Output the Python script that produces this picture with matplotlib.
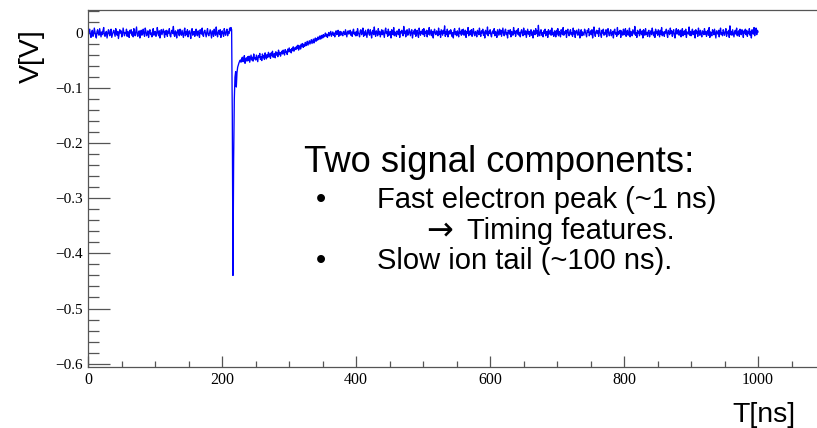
import numpy as np
import matplotlib
matplotlib.use("Agg")
import matplotlib.pyplot as plt
from matplotlib.ticker import MultipleLocator, FixedLocator, FuncFormatter

# ---------------- data ----------------
dt_ns = 1.0  # sample spacing of the typed trace

# baseline before the pulse, starting at t = 0 ns (mV)
pre_start = 0
pre_mV = [
    -3, 4, 7, -2, -8, 1, 5, -6, -1, 9, 2, -5, -9, 3, 6, -1, -4, 8, 0, -7,
    2, -3, 5, 10, -4, -6, 1, 3, -9, -2, 6, 4, -5, 0, 7, -8, -3, 2, 5, -1,
    -6, 8, 1, -4, 3, -10, -2, 6, 0, 4, -7, -3, 9, 2, -5, 1, -1, 7, -6, 3,
    -2, -8, 5, 0, 6, -4, 2, -7, 8, -1, -5, 3, 11, -3, -6, 2, 4, -9, 1, 5,
    -4, 0, 7, -2, -6, 9, 3, -5, -1, 4, -8, 2, 6, -3, 0, -7, 5, 8, -4, 1,
    3, -6, -2, 10, 1, -5, 4, -9, 0, 6, -3, 2, 7, -1, -8, 4, -2, 5, -6, 3,
    0, 8, -4, -7, 2, 5, -1, 12, -3, -6, 4, 1, -9, 3, 6, -2, -5, 7, 0, -4,
    5, -1, -8, 3, 9, -5, 2, -3, 6, -7, 1, 4, -2, -10, 5, 8, -4, 0, 3, -6,
    2, 7, -3, -5, 4, 0, -8, 6, 1, -2, 9, -4, -6, 3, 5, -1, -7, 2, 8, -3,
    -5, 1, 6, -2, -9, 4, 3, -6, 7, 0, -4, 11, -1, -7, 2, 5, -3, 6, -8, 1,
    4, -2, -6, 8, 0, -4, 3, 7, -5, 2, -1, 9, 4, 10, 6,
]
# fast electron peak, starting at t = 215 ns (mV)
peak_start = 215
peak_mV = [-150, -440, -230, -120, -80, -70, -98, -72, -62, -58, -54, -51, -49, -53, -47]
# slow ion tail, starting at t = 230 ns (mV)
tail_start = 230
tail_mV = [
    -44, -52, -47, -41, -55, -49, -45, -51, -43, -50,
    -42, -53, -46, -40, -49, -44, -51, -38, -47, -45,
    -49, -40, -46, -52, -41, -44, -37, -48, -43, -50,
    -38, -45, -41, -48, -36, -43, -47, -39, -44, -35,
    -43, -38, -46, -36, -41, -33, -44, -39, -37, -45,
    -34, -40, -36, -43, -31, -39, -35, -42, -37, -33,
    -38, -31, -36, -40, -30, -35, -33, -39, -29, -34,
    -27, -34, -30, -36, -28, -32, -25, -33, -29, -26,
    -30, -24, -28, -22, -31, -26, -23, -29, -20, -25,
    -19, -26, -21, -24, -17, -23, -20, -15, -22, -18,
    -14, -20, -16, -12, -19, -15, -11, -18, -13, -9,
    -15, -10, -13, -7, -12, -9, -5, -11, -8, -4,
    -9, -3, -7, -5, 0, -6, -2, -8, -4, 1,
    -5, -1, 3, -6, -2, 2, -4, 0, -7, 1,
    4, -3, -1, 5, -6, 0, 3, -4, 2, -2,
    -5, 3, 1, -3, 6, -1, -7, 2, 4, -2,
    0, 5, -4, 2, -6, 3, 7, -2, 1, -5,
]
# baseline after the tail, starting at t = 400 ns (mV)
post_start = 400
post_mV = [
    3, -5, 8, 1, -2, -7, 4, 6, -3, 0, 9, -6, 2, -4, 5, -1, -8, 3, 7, -2,
    -4, 6, 0, -9, 2, 5, -3, 11, -1, -6, 4, 1, -5, 8, -2, 3, -7, 0, 6, -3,
    5, -2, -8, 4, 9, -1, 2, -6, 7, -4, 0, 3, -9, 6, 1, -3, 10, -5, 2, -1,
    -6, 4, 1, -3, 7, -8, 3, 0, 5, -2, -5, 12, -1, 4, -7, 2, 6, -4, -2, 8,
    1, -5, 3, 6, -9, 0, 4, -2, 7, -6, 2, 5, -3, -8, 9, 1, -4, 3, -1, 6,
    -3, 8, -6, 2, 0, 5, -7, 4, -2, 10, -4, 1, 6, -5, 3, -9, 2, 7, -1, -3,
    4, 0, -5, 9, -2, 3, -8, 6, 1, -4, 5, -1, 13, -6, 2, -3, 7, -7, 0, 4,
    -2, 6, 3, -6, 1, -9, 5, 8, -3, 2, -5, 4, 0, -7, 9, -1, 3, -4, 6, -2,
    7, -4, 1, 5, -8, 3, -1, 10, -5, 0, 4, -3, 6, -6, 2, 8, -2, -5, 3, 1,
    -7, 5, 2, -3, 9, -1, -6, 4, 0, 7, -4, 2, -9, 5, 1, -2, 11, -5, 3, -1,
    6, -3, -7, 2, 4, -1, 8, -5, 3, 0, -8, 6, 1, -4, 7, -2, 5, -6, 2, 9,
    -1, -5, 4, 7, -3, 1, -9, 5, 2, -2, 6, -7, 3, 0, -4, 10, -1, 4, -6, 2,
    5, -2, 8, -4, 1, -7, 3, 6, -1, -5, 9, 2, -3, 4, -8, 0, 7, -2, 3, -6,
    1, 6, -4, 2, -9, 5, 0, -3, 8, -1, 4, -6, 14, -2, -5, 3, 6, -4, 1, -7,
    4, -1, 7, -5, 2, 3, -8, 6, -2, 0, 5, -4, 9, -3, 1, -6, 4, 2, -7, 5,
    -2, 8, -5, 3, 0, -7, 6, 1, -3, 10, -4, 2, -1, 5, -8, 4, 7, -2, -5, 3,
    6, -3, 1, -6, 9, -2, 4, -8, 2, 5, -1, -4, 7, 0, -9, 3, 6, -5, 2, -1,
    -4, 7, 3, -2, -7, 5, 1, 8, -5, 0, 4, -3, 6, -9, 2, 11, -1, -6, 3, 5,
    -1, 4, -6, 9, 2, -3, -8, 5, 0, 7, -4, 1, -2, 6, -7, 3, 8, -1, -5, 2,
    6, -5, 0, 3, -9, 4, 7, -2, 1, -6, 10, -3, 2, -1, 5, -8, 4, 0, -4, 7,
    -3, 2, 8, -6, 1, 5, -4, -1, 9, -7, 3, 0, -5, 6, 2, -2, 12, -4, 1, -8,
    5, -1, 3, -5, 7, 0, -3, 4, -9, 6, 2, -4, 8, -2, 1, -6, 3, 5, -7, 0,
    4, -3, 9, 1, -5, 2, -8, 7, -1, 3, -4, 6, 0, -7, 5, -2, 10, -5, 2, 1,
    -6, 3, 0, 7, -2, -8, 5, 1, -3, 9, -1, 4, -6, 2, 6, -4, -9, 3, 8, -2,
    1, 6, -4, -1, 5, -7, 3, 8, -5, 0, 4, -3, 7, -8, 2, 1, -2, 11, -4, 3,
    -5, 2, 7, -3, 0, 4, -9, 6, -1, 3, -6, 9, 1, -4, 5, -2, -7, 4, 2, -3,
    8, -2, 3, -6, 1, 5, -4, 10, -8, 2, 0, -5, 6, 3, -3, 7, -1, -9, 4, 1,
    -2, 5, -7, 4, 9, -3, 1, -5, 6, 0, -4, 3, 8, -6, 2, -1, 5, -8, 13, -3,
    3, -4, 6, 0, -7, 2, 5, -2, 9, -5, 1, 4, -6, 7, -1, -3, 6, 2, -8, 4,
    0, 7, -3, 5, -6, 2, -1, 8, -4, 3, -9, 6, 1, -2, 10, -5, 4, 9, -3, 5,
    2,
]

x_major = [0, 200, 400, 600, 800, 1000]
y_major = [-0.6, -0.5, -0.4, -0.3, -0.2, -0.1, 0.0]
x_label = "T[ns]"
y_label = "V[V]"
heading = "Two signal components:"
bullet1 = "Fast electron peak (~1 ns)"
arrow = "\u2192"
sub1 = "Timing features."
bullet2 = "Slow ion tail (~100 ns)."

segments = [(pre_start, pre_mV), (peak_start, peak_mV),
            (tail_start, tail_mV), (post_start, post_mV)]
t_ns = np.concatenate([s + np.arange(len(v)) * dt_ns for s, v in segments])
volts = np.concatenate([np.asarray(v, dtype=float) for _, v in segments]) / 1000.0

# ---------------- figure ----------------
W, H = 817, 428
fig = plt.figure(figsize=(W / 100, H / 100), dpi=100)

def fx(px):
    return px / W

def fy(py):
    return 1 - py / H

ax_l, ax_r, ax_t, ax_b = 88.3, 817.0, 10.0, 367.3
ax = fig.add_axes([fx(ax_l), fy(ax_b), (ax_r - ax_l) / W, (ax_b - ax_t) / H])

ax.plot(t_ns, volts, color="#0000ff", lw=0.95, antialiased=True)

ax.set_xlim(0, 1088)
ax.set_ylim(-0.6067, 0.0418)

spine_col = "#555555"
for s in ["left", "bottom", "top"]:
    ax.spines[s].set_color(spine_col)
    ax.spines[s].set_linewidth(0.9)
ax.spines["right"].set_visible(False)

ax.xaxis.set_major_locator(FixedLocator(x_major))
ax.xaxis.set_minor_locator(MultipleLocator(50))
ax.yaxis.set_major_locator(FixedLocator(y_major))
ax.yaxis.set_minor_locator(MultipleLocator(0.02))

def yfmt(v, pos):
    if abs(v) < 1e-9:
        return "0"
    return f"{v:.1f}".replace("-", "\u2212")

ax.yaxis.set_major_formatter(FuncFormatter(yfmt))
ax.xaxis.set_major_formatter(FuncFormatter(lambda v, p: f"{int(round(v))}"))

ax.tick_params(axis="both", which="both", direction="in", colors=spine_col,
               labelcolor="black", top=False, right=False, width=0.9)
ax.tick_params(axis="y", which="major", length=15.8, pad=3.8)
ax.tick_params(axis="y", which="minor", length=7.9)
ax.tick_params(axis="x", which="major", length=7.7, pad=3.2)
ax.tick_params(axis="x", which="minor", length=4.0)

for lab in ax.get_yticklabels():
    lab.set_fontfamily("Liberation Serif")
    lab.set_fontsize(11)
for lab in ax.get_xticklabels():
    lab.set_fontfamily("Liberation Serif")
    lab.set_fontsize(11.5)

sans = ["Liberation Sans", "DejaVu Sans"]

fig.text(fx(32), fy(55.8), y_label, rotation=90, ha="center", va="center",
         fontsize=20.5, family=sans)
fig.text(fx(732), fy(421.7), x_label, ha="left", va="baseline",
         fontsize=20.5, family=sans)

fig.text(fx(304), fy(171.7), heading, ha="left", va="baseline", fontsize=26.2, family=sans)
fig.text(fx(316), fy(207.7), "\u2022", ha="left", va="baseline", fontsize=21, family=sans)
fig.text(fx(377), fy(207.7), bullet1, ha="left", va="baseline", fontsize=21, family=sans)
fig.text(fx(426), fy(239.3), arrow, ha="left", va="baseline", fontsize=23,
         family=["DejaVu Sans"])
fig.text(fx(466.7), fy(239.3), sub1, ha="left", va="baseline", fontsize=21, family=sans)
fig.text(fx(316), fy(269.3), "\u2022", ha="left", va="baseline", fontsize=21, family=sans)
fig.text(fx(377), fy(269.3), bullet2, ha="left", va="baseline", fontsize=21, family=sans)

fig.savefig("out.png", dpi=100)
